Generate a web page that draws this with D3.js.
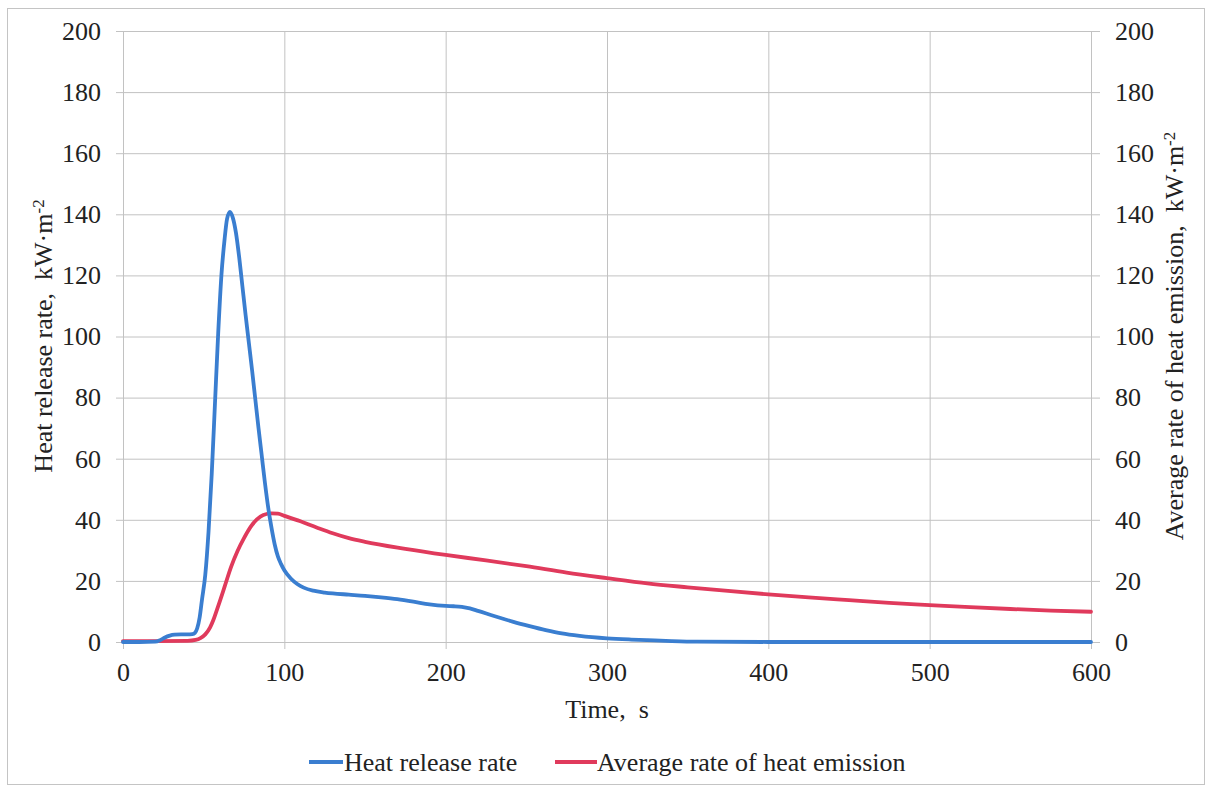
<!DOCTYPE html>
<html>
<head>
<meta charset="utf-8">
<script src="https://cdn.jsdelivr.net/npm/d3@7/dist/d3.min.js"></script>
<style>
  html, body { margin: 0; padding: 0; background: #fff; }
  svg { display: block; }
  text { font-family: "Liberation Serif", "Times New Roman", serif; fill: #222; }
</style>
</head>
<body>
<svg id="chart" width="1208" height="787"></svg>
<script>
// ---- data ----
const hrrTime  = [0, 10, 20, 23, 26, 29, 32, 36, 40, 43, 44.6, 46, 47.5, 49, 51, 53, 55, 57, 59, 61, 63, 64.5, 66.3, 68, 70, 72, 74, 76, 78, 80, 82, 84, 86, 88, 90, 92, 94, 96, 98, 100, 104, 108, 112, 118, 125, 130, 140, 150, 160, 170, 180, 190, 200, 205, 210, 215, 220, 230, 242, 252, 262, 272, 283, 300, 315, 325, 340, 356, 400, 450, 500, 550, 600];
const hrrValue = [0, 0, 0.1, 0.6, 1.5, 2.1, 2.4, 2.5, 2.5, 2.6, 3, 4.5, 8, 14, 22, 36, 55, 78, 101, 120, 132, 138.5, 140.8, 139, 134, 126, 116.5, 107, 98, 89, 79.5, 70, 61, 52, 44, 37.5, 32, 28, 25.5, 23.5, 20.8, 19, 17.8, 16.8, 16.2, 15.9, 15.5, 15.1, 14.6, 14, 13.2, 12.3, 11.8, 11.7, 11.5, 11, 10.2, 8.5, 6.6, 5.2, 3.9, 2.8, 2.0, 1.2, 0.8, 0.6, 0.3, 0.1, 0, 0, 0, 0, 0];

const avgTime  = [0, 20, 40, 45, 48, 51, 54, 56, 58, 60, 62, 64, 67, 71, 75, 79, 83, 87, 92, 96, 100, 110, 120, 130, 140, 150, 175, 200, 225, 250, 275, 300, 325, 350, 375, 400, 425, 450, 475, 500, 525, 550, 575, 600];
const avgValue = [0.3, 0.3, 0.4, 0.7, 1.3, 2.5, 4.8, 7.2, 10.2, 13.3, 16.5, 19.8, 24.6, 29.8, 34, 37.6, 40.1, 41.6, 42.1, 42, 41.3, 39.5, 37.5, 35.6, 34, 32.8, 30.5, 28.5, 26.7, 24.8, 22.7, 20.9, 19.2, 17.9, 16.7, 15.6, 14.6, 13.7, 12.8, 12.1, 11.4, 10.8, 10.3, 9.9];

const xTicks = [0, 100, 200, 300, 400, 500, 600];
const yTicks = [0, 20, 40, 60, 80, 100, 120, 140, 160, 180, 200];
const seriesNames = ["Heat release rate", "Average rate of heat emission"];
const seriesColors = ["#3a7ed0", "#e03a5c"];

// ---- layout ----
(function () {
const svg = d3.select("#chart");
const FS = 26;
const pL = 123, pR = 1091, pT = 31, pB = 642;

svg.append("rect").attr("x", 0).attr("y", 0).attr("width", 1208).attr("height", 787).attr("fill", "#fff");
svg.append("rect").attr("x", 7.5).attr("y", 8.5).attr("width", 1197).attr("height", 776)
  .attr("fill", "none").attr("stroke", "#c4c4c4").attr("stroke-width", 1);

const x = d3.scaleLinear().domain([0, 600]).range([pL, pR]);
const y = d3.scaleLinear().domain([0, 200]).range([pB, pT]);

// horizontal grid + left labels
const gL = svg.append("g").attr("transform", `translate(116,0)`)
  .call(d3.axisLeft(y).tickValues(yTicks).tickSizeInner(-(1100 - 116)).tickSizeOuter(0).tickPadding(15));
gL.select(".domain").remove();
gL.selectAll("line").attr("stroke", "#c2c2c2").attr("stroke-width", 1);
gL.selectAll("text").attr("font-size", FS).attr("font-family", '"Liberation Serif", serif').attr("fill", "#222");

// right labels
const gR = svg.append("g").attr("transform", `translate(1100,0)`)
  .call(d3.axisRight(y).tickValues(yTicks).tickSize(0).tickPadding(15));
gR.select(".domain").remove();
gR.selectAll("text").attr("font-size", FS).attr("font-family", '"Liberation Serif", serif').attr("fill", "#222");

// vertical grid + bottom labels
const gB = svg.append("g").attr("transform", `translate(0,649)`)
  .call(d3.axisBottom(x).tickValues(xTicks).tickSizeInner(-(649 - pT)).tickSizeOuter(0).tickPadding(14));
gB.select(".domain").remove();
gB.selectAll("line").attr("stroke", "#c2c2c2").attr("stroke-width", 1);
gB.selectAll("text").attr("font-size", FS).attr("font-family", '"Liberation Serif", serif').attr("fill", "#222");

// lines
const line = d3.line().x(d => x(d[0])).y(d => y(d[1])).curve(d3.curveMonotoneX);
const hrr = hrrTime.map((t, i) => [t, hrrValue[i]]);
const avg = avgTime.map((t, i) => [t, avgValue[i]]);

svg.append("path").datum(avg).attr("d", line).attr("fill", "none")
  .attr("stroke", seriesColors[1]).attr("stroke-width", 3.8).attr("stroke-linejoin", "round").attr("stroke-linecap", "round");
svg.append("path").datum(hrr).attr("d", line).attr("fill", "none")
  .attr("stroke", seriesColors[0]).attr("stroke-width", 3.8).attr("stroke-linejoin", "round").attr("stroke-linecap", "round");

// axis titles
svg.append("text").attr("x", (pL + pR) / 2).attr("y", 718).attr("text-anchor", "middle")
  .attr("font-size", FS).style("white-space", "pre").text("Time,  s");

function yTitle(xPos, label) {
  const t = svg.append("text").attr("transform", `translate(${xPos},336) rotate(-90)`)
    .attr("text-anchor", "middle").attr("font-size", FS).style("white-space", "pre");
  t.append("tspan").text(label + ",  kW·m");
  t.append("tspan").attr("dy", "-0.45em").attr("font-size", 17).text("-2");
}
yTitle(52, "Heat release rate");
yTitle(1183, "Average rate of heat emission");

// legend
const legend = [
  { x1: 309, x2: 343, tx: 344 },
  { x1: 555, x2: 597, tx: 597 }
];
legend.forEach((L, i) => {
  svg.append("line").attr("x1", L.x1).attr("x2", L.x2).attr("y1", 762).attr("y2", 762)
    .attr("stroke", seriesColors[i]).attr("stroke-width", 4);
  svg.append("text").attr("x", L.tx).attr("y", 770.5).attr("font-size", FS).text(seriesNames[i]);
});
})();
</script>
</body>
</html>
